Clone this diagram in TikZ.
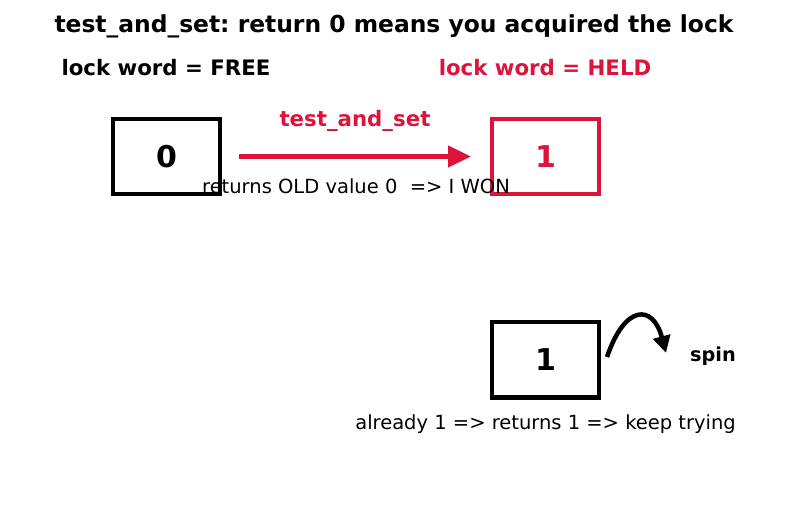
\documentclass[tikz,border=0pt]{standalone}
\usepackage{fontspec}
\setmainfont{DejaVu Sans}
\usetikzlibrary{arrows.meta}
\definecolor{crim}{RGB}{220,20,60}
\frenchspacing
\tikzset{
  cell/.style={draw, line width=4pt, minimum width=107pt, minimum height=75pt, inner sep=0pt, font=\bfseries\fontsize{30}{34}\selectfont},
  ttl/.style={font=\bfseries\fontsize{23.4}{27}\selectfont, inner sep=0pt},
  hdr/.style={font=\bfseries\fontsize{21.3}{25}\selectfont, inner sep=0pt},
  note/.style={font=\fontsize{19.5}{23}\selectfont, inner sep=0pt},
  bnote/.style={font=\bfseries\fontsize{19.3}{23}\selectfont, inner sep=0pt},
  bigarrow/.style={line width=4.5pt, -{Triangle[length=23pt,width=21pt]}},
  curlarrow/.style={line width=4.5pt, -{Triangle[length=17pt,width=17pt]}}
}
\begin{document}
\begin{tikzpicture}[x=1pt,y=-1pt]
\useasboundingbox (0,0) rectangle (787,510);
\node[ttl] (title) at (394,26.5) {test\_and\_set: return 0 means you acquired the lock};
\node[hdr] (free) at (166,68) {lock word = FREE};
\node[hdr, text=crim] (held) at (545,68) {lock word = HELD};
\node[cell] (b0) at (166.5,156.5) {0};
\node[cell, draw=crim, text=crim] (b1) at (545.5,156.5) {1};
\node[cell] (b2) at (545.5,360) {1};
\draw[bigarrow, crim] ([xshift=17pt]b0.east) -- ([xshift=-19pt]b1.west);
\node[hdr, text=crim] (tas) at (355,121) {test\_and\_set};
\node[note] (ret) at (356,186) {returns OLD value 0\ \ => I WON};
\coordinate (cs) at (607,357);
\coordinate (ce) at (666,353);
\draw[curlarrow] (cs) .. controls (625,304) and (653,304) .. (ce);
\node[bnote, anchor=east] (spin) at (736,356) {spin};
\node[note, anchor=east] (keep) at (736,424) {already 1 => returns 1 => keep trying};
\end{tikzpicture}
\end{document}
